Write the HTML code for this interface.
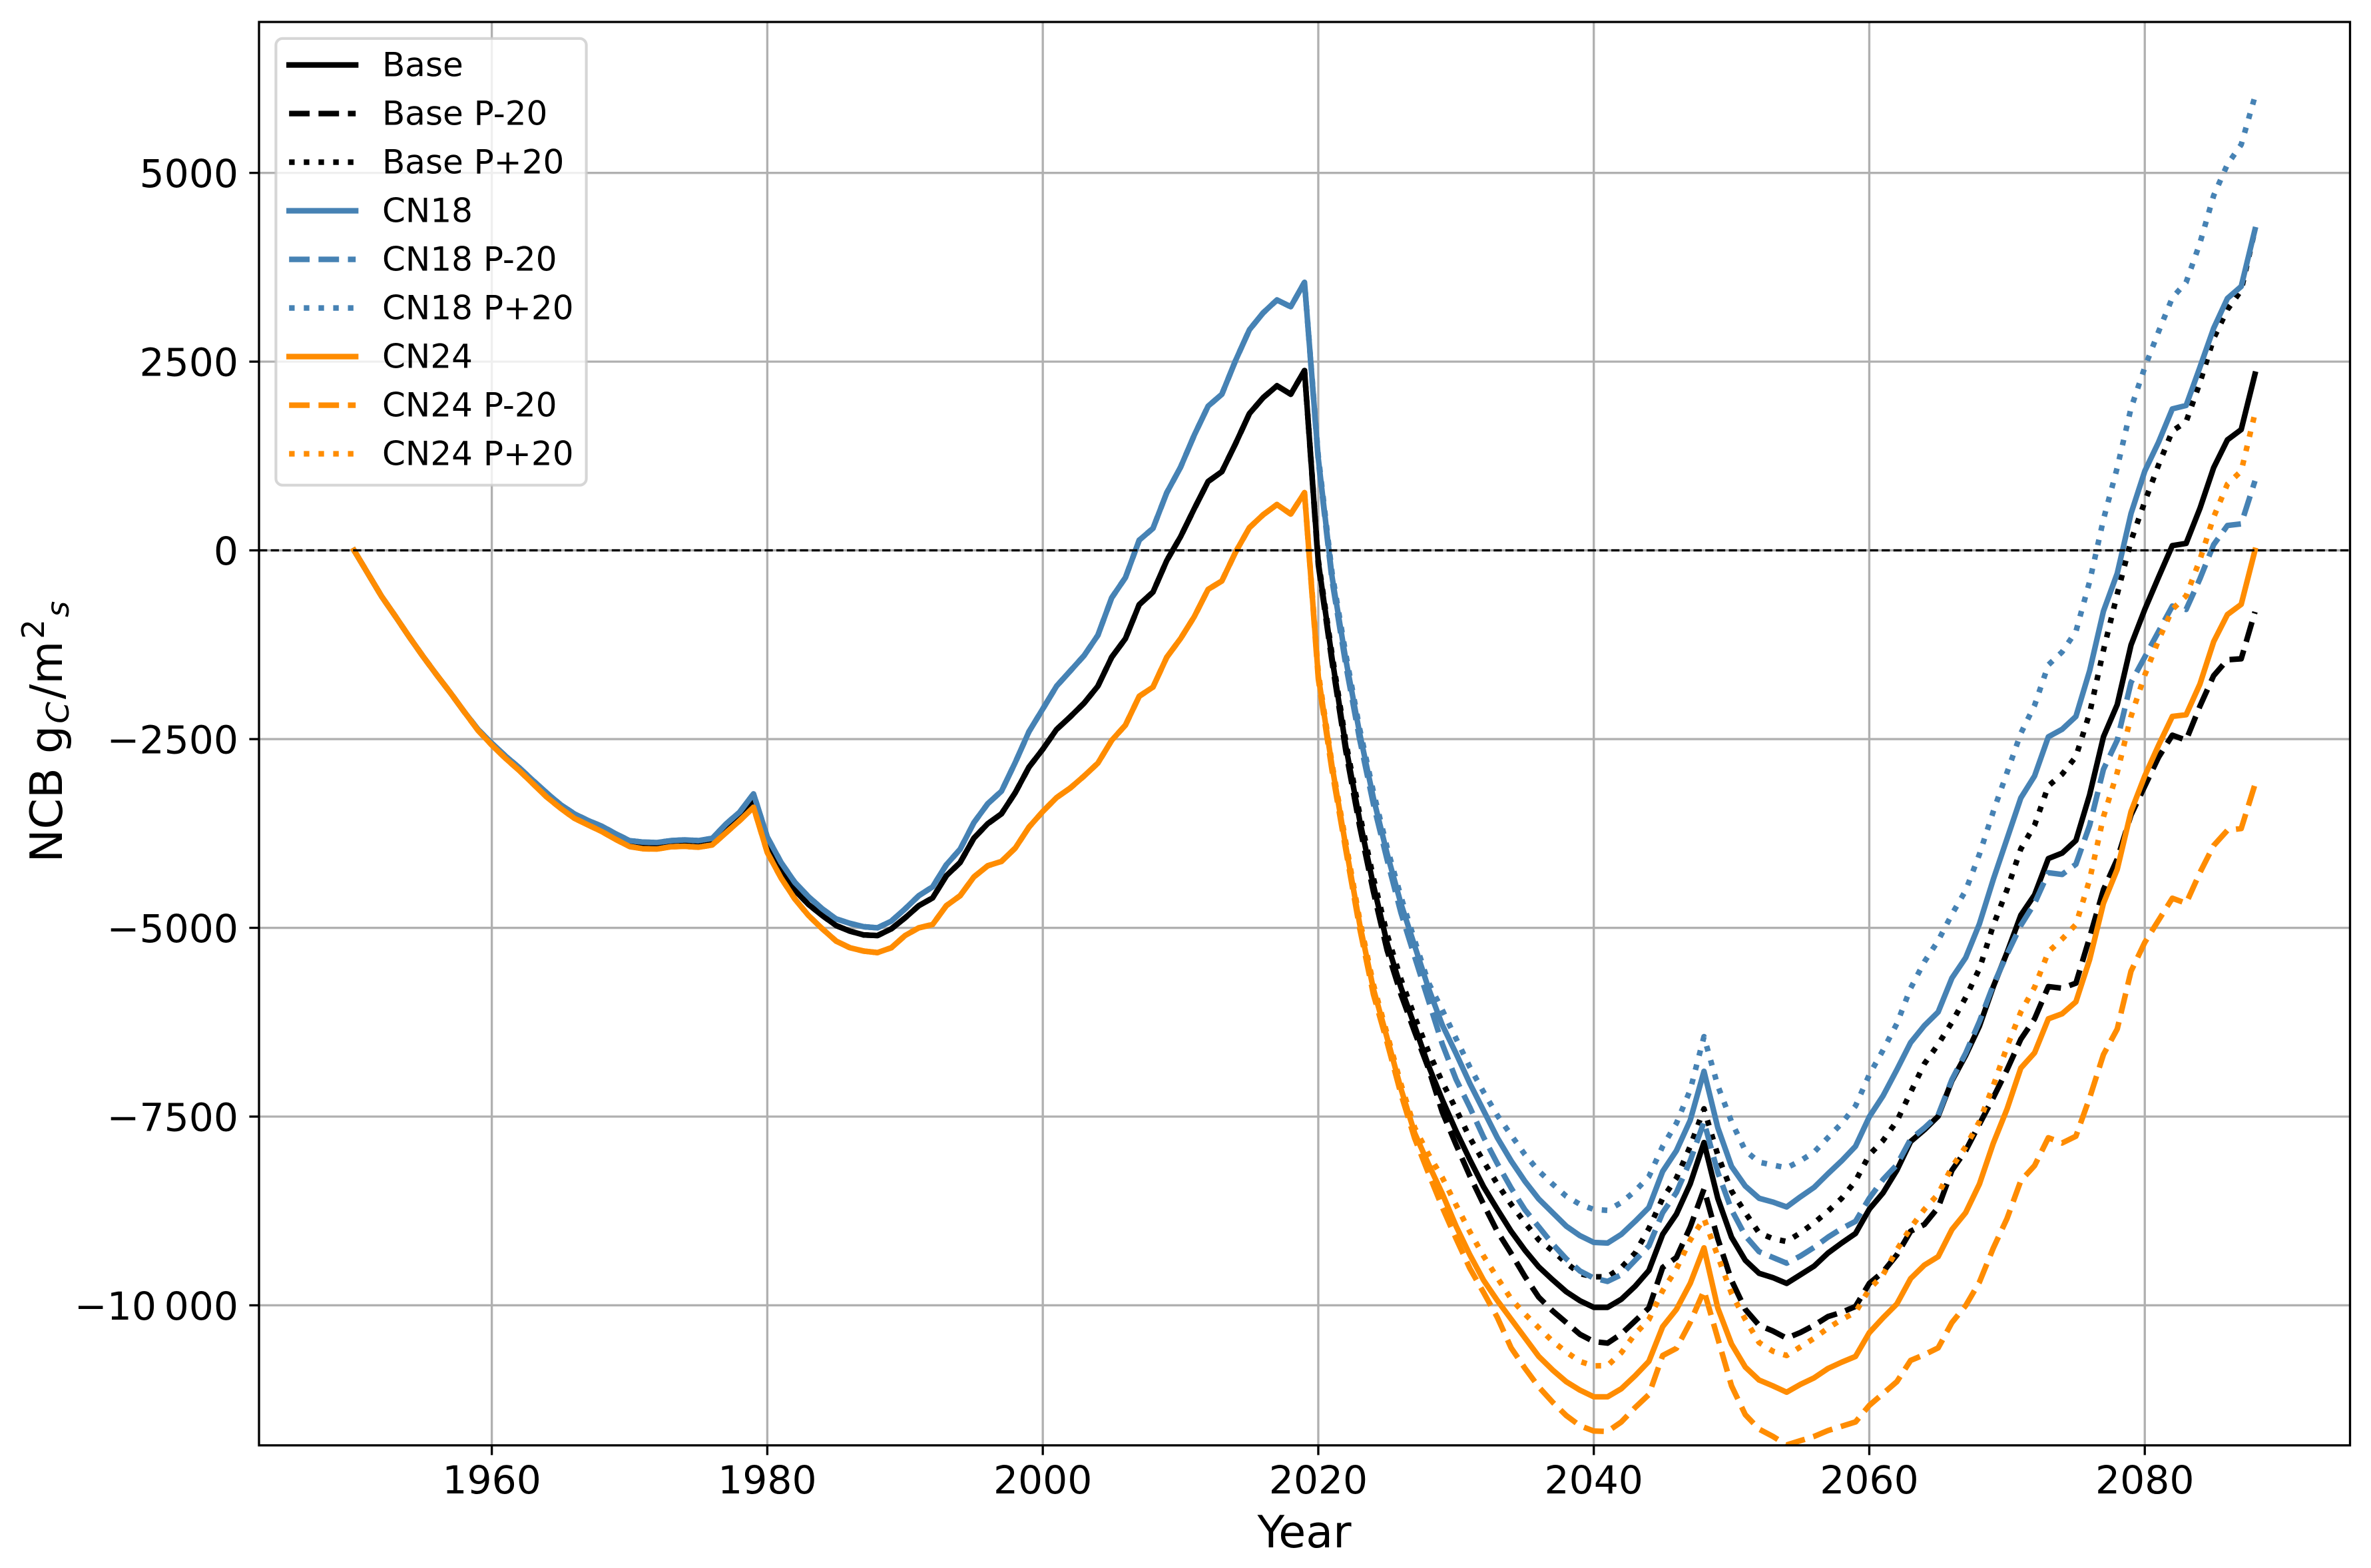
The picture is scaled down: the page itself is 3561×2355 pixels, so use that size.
<!DOCTYPE html>
<html lang="en">
<head>
<meta charset="utf-8">
<title>NCB by Year</title>
<style>
html,body{margin:0;padding:0;background:#fff;}
svg{display:block;font-family:"DejaVu Sans","Liberation Sans",sans-serif;}
</style>
</head>
<body>
<svg id="chart" xmlns="http://www.w3.org/2000/svg" width="3561" height="2355" viewBox="0 0 3561 2355">
  <defs>
    <clipPath id="plot-clip"><rect x="389" y="33" width="3140.5" height="2137.8"/></clipPath>
  </defs>
  <rect x="0" y="0" width="3561" height="2355" fill="#fff"/>
  <g id="grid"></g>
  <g id="series" clip-path="url(#plot-clip)"></g>
  <g id="zero" clip-path="url(#plot-clip)"></g>
  <g id="ticks"></g>
  <rect x="389" y="33" width="3140.5" height="2137.8" fill="none" stroke="#000" stroke-width="3.33"/>
  <text x="1959" y="2324" font-size="66.67" text-anchor="middle" fill="#000">Year</text>
  <text x="93" y="1099" font-size="66.67" text-anchor="middle" fill="#000" transform="rotate(-90 93 1099)">NCB g<tspan dx="3" dy="10" font-size="46.7" font-style="italic">C</tspan><tspan dx="4" dy="-10">/m</tspan><tspan dx="3" dy="-27" font-size="46.7">2</tspan><tspan dx="3" dy="37" font-size="46.7" font-style="italic">s</tspan></text>
  <g font-size="50" fill="#000">
    <rect x="414.4" y="57.8" width="466.2" height="670.9" rx="10" ry="10" fill="rgba(255,255,255,0.8)" stroke="rgba(204,204,204,0.8)" stroke-width="4.17"/>
    <g><line x1="434.2" x2="534.2" y1="97.6" y2="97.6" stroke="#000" stroke-width="8.33" stroke-linecap="square"/><text x="574" y="114.6">Base</text></g>
    <g><line x1="434.2" x2="534.2" y1="170.6" y2="170.6" stroke="#000" stroke-width="8.33" stroke-dasharray="30.83 13.33"/><text x="574" y="187.6">Base P-20</text></g>
    <g><line x1="434.2" x2="534.2" y1="243.6" y2="243.6" stroke="#000" stroke-width="8.33" stroke-dasharray="8.33 13.75"/><text x="574" y="260.6">Base P+20</text></g>
    <g><line x1="434.2" x2="534.2" y1="316.6" y2="316.6" stroke="#4682b4" stroke-width="8.33" stroke-linecap="square"/><text x="574" y="333.6">CN18</text></g>
    <g><line x1="434.2" x2="534.2" y1="389.6" y2="389.6" stroke="#4682b4" stroke-width="8.33" stroke-dasharray="30.83 13.33"/><text x="574" y="406.6">CN18 P-20</text></g>
    <g><line x1="434.2" x2="534.2" y1="462.6" y2="462.6" stroke="#4682b4" stroke-width="8.33" stroke-dasharray="8.33 13.75"/><text x="574" y="479.6">CN18 P+20</text></g>
    <g><line x1="434.2" x2="534.2" y1="535.6" y2="535.6" stroke="#ff8c00" stroke-width="8.33" stroke-linecap="square"/><text x="574" y="552.6">CN24</text></g>
    <g><line x1="434.2" x2="534.2" y1="608.6" y2="608.6" stroke="#ff8c00" stroke-width="8.33" stroke-dasharray="30.83 13.33"/><text x="574" y="625.6">CN24 P-20</text></g>
    <g><line x1="434.2" x2="534.2" y1="681.6" y2="681.6" stroke="#ff8c00" stroke-width="8.33" stroke-dasharray="8.33 13.75"/><text x="574" y="698.6">CN24 P+20</text></g>
  </g>
</svg>
<script>
const firstYear = 1950;
const xTickValues = [1960, 1980, 2000, 2020, 2040, 2060, 2080];
const xTickLabels = ["1960", "1980", "2000", "2020", "2040", "2060", "2080"];
const yTickValues = [5000, 2500, 0, -2500, -5000, -7500, -10000];
const yTickLabels = ["5000", "2500", "0", "\u22122500", "\u22125000", "\u22127500", "\u221210\u2009000"];

const base = [0,-305,-610,-873,-1144,-1403,-1650,-1888,-2138,-2378,-2565,-2735,-2895,-3070,-3235,-3385,-3510,-3600,-3680,-3780,-3870,-3890,-3895,-3870,-3860,-3870,-3845,-3660,-3500,-3290,
-3885,-4237,-4501,-4692,-4838,-4970,-5044,-5094,-5102,-5014,-4868,-4706,-4604,-4310,-4134,-3811,-3621,-3489,-3210,-2870,-2634,-2372,-2203,-2023,-1798,-1416,-1169,-719,-553,-135,180,553,912,1043,1416,1812,2023,2180,2068,2382,
-157,-1430,-2600,-3570,-4434,-5205,-5790,-6304,-6826,-7277,-7690,-8070,-8430,-8730,-9020,-9270,-9490,-9660,-9820,-9940,-10027,-10027,-9920,-9748,-9538,-9060,-8792,-8391,-7844,-8582,-9098,-9404,-9576,-9633,-9710,-9595,-9480,-9308,-9174,-9048,-8727,-8510,-8212,-7831,-7675,-7496,-7025,-6689,-6300,-5780,-5328,-4833,-4563,-4082,-4010,-3843,-3235,-2470,-2043,-1255,-783,-355,63,92,554,1095,1464,1600,2334];

const baseMinus20 = [0,-305,-610,-873,-1144,-1403,-1650,-1888,-2138,-2378,-2565,-2735,-2895,-3070,-3235,-3385,-3510,-3600,-3680,-3780,-3870,-3890,-3895,-3870,-3860,-3870,-3845,-3660,-3500,-3290,
-3885,-4237,-4501,-4692,-4838,-4970,-5044,-5094,-5102,-5014,-4868,-4706,-4604,-4310,-4134,-3811,-3621,-3489,-3210,-2870,-2634,-2372,-2203,-2023,-1798,-1416,-1169,-719,-553,-135,180,553,912,1043,1416,1812,2023,2180,2068,2382,
-190,-1480,-2660,-3650,-4520,-5300,-5880,-6380,-6862,-7439,-7871,-8285,-8663,-9023,-9312,-9618,-9892,-10072,-10228,-10385,-10480,-10501,-10379,-10207,-10035,-9499,-9366,-8964,-8460,-9117,-9671,-10054,-10264,-10340,-10436,-10360,-10264,-10149,-10092,-10015,-9710,-9557,-9332,-9019,-8929,-8705,-8212,-7950,-7600,-7250,-6880,-6475,-6205,-5778,-5800,-5733,-5125,-4495,-4090,-3505,-3123,-2740,-2448,-2515,-2065,-1660,-1449,-1436,-815];

const basePlus20 = [0,-305,-610,-873,-1144,-1403,-1650,-1888,-2138,-2378,-2565,-2735,-2895,-3070,-3235,-3385,-3510,-3600,-3680,-3780,-3870,-3890,-3895,-3870,-3860,-3870,-3845,-3660,-3500,-3290,
-3885,-4237,-4501,-4692,-4838,-4970,-5044,-5094,-5102,-5014,-4868,-4706,-4604,-4310,-4134,-3811,-3621,-3489,-3210,-2870,-2634,-2372,-2203,-2023,-1798,-1416,-1169,-719,-553,-135,180,553,912,1043,1416,1812,2023,2180,2068,2382,
-130,-1380,-2540,-3490,-4340,-5090,-5680,-6180,-6640,-7042,-7403,-7781,-8094,-8393,-8663,-8905,-9132,-9276,-9438,-9582,-9622,-9622,-9500,-9308,-8983,-8582,-8314,-7894,-7397,-8008,-8486,-8773,-9041,-9117,-9155,-9041,-8907,-8754,-8582,-8353,-8008,-7817,-7560,-7180,-6800,-6543,-6250,-5922,-5540,-4968,-4495,-3955,-3640,-3120,-2965,-2732,-2155,-1323,-580,128,644,1131,1581,1703,2221,2807,3190,3446,4248];

const cn18 = [0,-305,-610,-873,-1144,-1403,-1650,-1888,-2138,-2372,-2555,-2725,-2880,-3050,-3215,-3370,-3490,-3580,-3655,-3755,-3845,-3865,-3870,-3845,-3835,-3845,-3815,-3625,-3465,-3225,
-3797,-4134,-4398,-4589,-4750,-4882,-4941,-4985,-5000,-4912,-4750,-4574,-4457,-4164,-3958,-3606,-3357,-3190,-2810,-2400,-2100,-1798,-1596,-1393,-1124,-629,-360,135,292,764,1101,1528,1910,2068,2517,2922,3147,3317,3227,3551,
1217,-353,-1450,-2420,-3280,-4020,-4680,-5240,-5800,-6286,-6664,-7060,-7421,-7781,-8087,-8357,-8591,-8771,-8951,-9078,-9167,-9175,-9060,-8888,-8704,-8226,-7951,-7550,-6900,-7645,-8161,-8421,-8582,-8632,-8697,-8563,-8437,-8257,-8085,-7894,-7504,-7225,-6880,-6520,-6295,-6115,-5665,-5395,-4945,-4360,-3820,-3280,-2988,-2470,-2370,-2200,-1593,-805,-305,487,1050,1433,1874,1919,2424,2942,3338,3496,4248];

const cn18Minus20 = [0,-305,-610,-873,-1144,-1403,-1650,-1888,-2138,-2372,-2555,-2725,-2880,-3050,-3215,-3370,-3490,-3580,-3655,-3755,-3845,-3865,-3870,-3845,-3835,-3845,-3815,-3625,-3465,-3225,
-3797,-4134,-4398,-4589,-4750,-4882,-4941,-4985,-5000,-4912,-4750,-4574,-4457,-4164,-3958,-3606,-3357,-3190,-2810,-2400,-2100,-1798,-1596,-1393,-1124,-629,-360,135,292,764,1101,1528,1910,2068,2517,2922,3147,3317,3227,3551,
1190,-400,-1520,-2500,-3360,-4100,-4800,-5385,-5962,-6538,-7006,-7377,-7774,-8123,-8447,-8735,-8959,-9186,-9384,-9546,-9640,-9683,-9595,-9404,-9213,-8773,-8505,-8085,-7569,-8238,-8735,-9079,-9289,-9366,-9442,-9347,-9232,-9098,-8983,-8888,-8582,-8333,-8140,-7800,-7650,-7480,-7010,-6660,-6240,-5760,-5350,-4968,-4675,-4270,-4293,-4158,-3640,-2900,-2515,-1750,-1413,-1075,-738,-783,-378,75,329,351,920];

const cn18Plus20 = [0,-305,-610,-873,-1144,-1403,-1650,-1888,-2138,-2372,-2555,-2725,-2880,-3050,-3215,-3370,-3490,-3580,-3655,-3755,-3845,-3865,-3870,-3845,-3835,-3845,-3815,-3625,-3465,-3225,
-3797,-4134,-4398,-4589,-4750,-4882,-4941,-4985,-5000,-4912,-4750,-4574,-4457,-4164,-3958,-3606,-3357,-3190,-2810,-2400,-2100,-1798,-1596,-1393,-1124,-629,-360,135,292,764,1101,1528,1910,2068,2517,2922,3147,3317,3227,3551,
1250,-300,-1380,-2360,-3200,-3940,-4590,-5170,-5728,-6088,-6466,-6844,-7176,-7485,-7745,-8004,-8220,-8393,-8555,-8663,-8730,-8742,-8639,-8486,-8295,-7894,-7588,-7148,-6441,-7091,-7569,-7951,-8104,-8142,-8180,-8085,-7970,-7779,-7588,-7359,-6946,-6620,-6270,-5800,-5450,-5170,-4820,-4505,-4023,-3460,-2943,-2425,-2052,-1517,-1345,-1075,-410,410,1095,1883,2424,2897,3347,3550,4068,4699,5113,5374,6014];

const cn24 = [0,-305,-610,-873,-1144,-1403,-1650,-1888,-2138,-2385,-2579,-2756,-2917,-3094,-3270,-3417,-3550,-3638,-3726,-3829,-3923,-3953,-3956,-3926,-3920,-3932,-3903,-3741,-3579,-3403,
-4002,-4340,-4618,-4838,-5014,-5176,-5264,-5308,-5328,-5264,-5102,-5000,-4956,-4706,-4574,-4325,-4178,-4120,-3944,-3665,-3459,-3275,-3147,-2989,-2818,-2517,-2315,-1933,-1811,-1416,-1169,-877,-517,-405,-22,301,472,607,481,764,
-1668,-2860,-3923,-4945,-5809,-6460,-7132,-7720,-8130,-8520,-8950,-9330,-9668,-9937,-10184,-10430,-10676,-10855,-11012,-11124,-11212,-11212,-11105,-10933,-10742,-10283,-10054,-9710,-9239,-10035,-10513,-10818,-10990,-11067,-11151,-11048,-10960,-10837,-10753,-10677,-10363,-10165,-9982,-9646,-9467,-9355,-8996,-8772,-8392,-7854,-7400,-6858,-6655,-6205,-6138,-5980,-5418,-4675,-4225,-3460,-2988,-2583,-2200,-2178,-1773,-1210,-850,-715,0];

const cn24Minus20 = [0,-305,-610,-873,-1144,-1403,-1650,-1888,-2138,-2385,-2579,-2756,-2917,-3094,-3270,-3417,-3550,-3638,-3726,-3829,-3923,-3953,-3956,-3926,-3920,-3932,-3903,-3741,-3579,-3403,
-4002,-4340,-4618,-4838,-5014,-5176,-5264,-5308,-5328,-5264,-5102,-5000,-4956,-4706,-4574,-4325,-4178,-4120,-3944,-3665,-3459,-3275,-3147,-2989,-2818,-2517,-2315,-1933,-1811,-1416,-1169,-877,-517,-405,-22,301,472,607,481,764,
-1700,-2920,-3970,-5000,-5880,-6520,-7200,-7790,-8250,-8700,-9114,-9510,-9830,-10161,-10564,-10833,-11080,-11281,-11460,-11595,-11665,-11671,-11545,-11354,-11182,-10665,-10570,-10226,-9805,-10436,-11067,-11449,-11640,-11736,-11850,-11793,-11736,-11659,-11602,-11545,-11326,-11169,-11012,-10730,-10654,-10564,-10228,-10004,-9691,-9243,-8850,-8350,-8150,-7780,-7850,-7760,-7250,-6678,-6340,-5575,-5193,-4900,-4608,-4675,-4270,-3910,-3708,-3685,-3100];

const cn24Plus20 = [0,-305,-610,-873,-1144,-1403,-1650,-1888,-2138,-2385,-2579,-2756,-2917,-3094,-3270,-3417,-3550,-3638,-3726,-3829,-3923,-3953,-3956,-3926,-3920,-3932,-3903,-3741,-3579,-3403,
-4002,-4340,-4618,-4838,-5014,-5176,-5264,-5308,-5328,-5264,-5102,-5000,-4956,-4706,-4574,-4325,-4178,-4120,-3944,-3665,-3459,-3275,-3147,-2989,-2818,-2517,-2315,-1933,-1811,-1416,-1169,-877,-517,-405,-22,301,472,607,481,764,
-1620,-2830,-3870,-4890,-5750,-6410,-7070,-7650,-8000,-8307,-8670,-9024,-9348,-9636,-9915,-10116,-10296,-10475,-10618,-10744,-10802,-10799,-10627,-10379,-10188,-9805,-9519,-9136,-8850,-9347,-9843,-10188,-10493,-10608,-10665,-10551,-10436,-10302,-10188,-10092,-9786,-9595,-9265,-8974,-8728,-8526,-8168,-7899,-7563,-7092,-6575,-6115,-5787,-5319,-5148,-4955,-4360,-3528,-2943,-2200,-1652,-1188,-783,-603,-126,441,878,1050,1815];

const SVGNS = "http://www.w3.org/2000/svg";
const plotLeft = 389, plotRight = 3529.5, plotTop = 33, plotBottom = 2170.8;
const xMin = 1943.1, xMax = 2094.9, yMin = -11855, yMax = 6999;

function xAxis(year) {
  return plotLeft + (year - xMin) / (xMax - xMin) * (plotRight - plotLeft);
}
function yAxis(value) {
  return plotBottom - (value - yMin) / (yMax - yMin) * (plotBottom - plotTop);
}
function make(tag, attrs) {
  const el = document.createElementNS(SVGNS, tag);
  for (const k in attrs) el.setAttribute(k, attrs[k]);
  return el;
}

const gridLayer = document.getElementById("grid");
const tickLayer = document.getElementById("ticks");
const seriesLayer = document.getElementById("series");
const zeroLayer = document.getElementById("zero");

xTickValues.forEach(function (year, i) {
  const x = xAxis(year);
  const g = make("line", {x1: x, x2: x, y1: plotTop, y2: plotBottom, stroke: "#b0b0b0", "stroke-width": 3.33});
  
  
  gridLayer.appendChild(g);
  const t = make("line", {x1: x, x2: x, y1: plotBottom, y2: plotBottom + 14.6, stroke: "#000", "stroke-width": 3.33});
  
  
  tickLayer.appendChild(t);
  const l = make("text", {x: x, y: 2243, "font-size": 58.33, "text-anchor": "middle", fill: "#000"});
  
  
  l.textContent = xTickLabels[i];
  tickLayer.appendChild(l);
});

yTickValues.forEach(function (value, i) {
  const y = yAxis(value);
  const g = make("line", {x1: plotLeft, x2: plotRight, y1: y, y2: y, stroke: "#b0b0b0", "stroke-width": 3.33});
  
  
  gridLayer.appendChild(g);
  const t = make("line", {x1: plotLeft - 14.6, x2: plotLeft, y1: y, y2: y, stroke: "#000", "stroke-width": 3.33});
  
  
  tickLayer.appendChild(t);
  const l = make("text", {x: 358, y: y + 21.3, "font-size": 58.33, "text-anchor": "end", fill: "#000"});
  
  
  l.textContent = yTickLabels[i];
  tickLayer.appendChild(l);
});

function drawSeries(values, color, dash, cap, name) {
  const pts = values.map(function (v, i) {
    return xAxis(firstYear + i).toFixed(2) + "," + yAxis(v).toFixed(2);
  }).join(" ");
  const attrs = {points: pts, fill: "none", stroke: color, "stroke-width": 8.33, "stroke-linejoin": "round", "stroke-linecap": cap};
  if (dash) attrs["stroke-dasharray"] = dash;
  const line = make("polyline", attrs);
  
  
  seriesLayer.appendChild(line);
}

const DASHED = "30.83 13.33";
const DOTTED = "8.33 13.75";
drawSeries(base, "#000000", null, "square", "line-base");
drawSeries(baseMinus20, "#000000", DASHED, "butt", "line-base-p-20");
drawSeries(basePlus20, "#000000", DOTTED, "butt", "line-base-p-plus-20");
drawSeries(cn18, "#4682b4", null, "square", "line-cn18");
drawSeries(cn18Minus20, "#4682b4", DASHED, "butt", "line-cn18-p-20");
drawSeries(cn18Plus20, "#4682b4", DOTTED, "butt", "line-cn18-p-plus-20");
drawSeries(cn24, "#ff8c00", null, "square", "line-cn24");
drawSeries(cn24Minus20, "#ff8c00", DASHED, "butt", "line-cn24-p-20");
drawSeries(cn24Plus20, "#ff8c00", DOTTED, "butt", "line-cn24-p-plus-20");

const zeroLine = make("line", {x1: plotLeft, x2: plotRight, y1: yAxis(0), y2: yAxis(0), stroke: "#000", "stroke-width": 3.33, "stroke-dasharray": "12.33 5.33"});


zeroLayer.appendChild(zeroLine);
</script>
</body>
</html>
